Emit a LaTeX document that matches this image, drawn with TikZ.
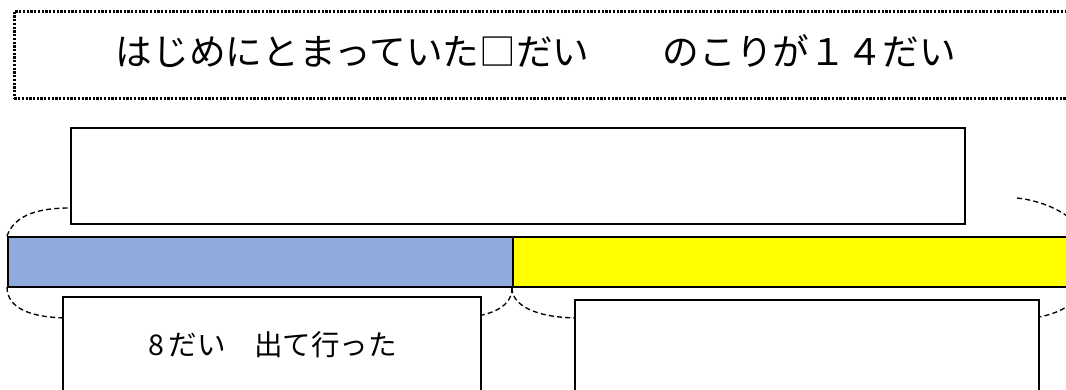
\documentclass[tikz,border=0pt]{standalone}
\usepackage{fontspec}
\setmainfont{Noto Sans CJK JP}
\definecolor{barblue}{HTML}{8FAADC}
\definecolor{baryellow}{HTML}{FFFF00}
\begin{document}
\begin{tikzpicture}[x=0.75pt,y=-0.75pt,
  whitebox/.style={draw=black, line width=1.6pt, fill=white, inner sep=0pt},
  barpart/.style={draw=black, line width=1.6pt, inner sep=0pt},
  bracecurve/.style={draw=black, line width=1pt, dash pattern=on 3.8pt off 2.4pt},
  titlebox/.style={draw=black, line width=2pt, dash pattern=on 1.7pt off 1.1pt, inner sep=0pt}]
\useasboundingbox (0,0) rectangle (1066,389);
\clip (0,0) rectangle (1066,389);

% title box (dotted)
\node[titlebox, minimum width=1067pt*0.75, minimum height=87pt*0.75, anchor=north west] (title) at (13,10) {};
\node[font=\fontsize{27.5pt}{30pt}\selectfont, inner sep=0pt] (titletext) at (536,51)
  {はじめにとまっていた□だい　　のこりが１４だい};

% braces (dashed), drawn first so the boxes hide their middles
\coordinate (bl) at (7,236);
\coordinate (tl) at (70,208);
\coordinate (tr) at (1017,198);
\coordinate (br) at (1085,236);
\coordinate (bbl) at (7,287);
\coordinate (bmid) at (512,288);
\coordinate (bbr) at (1085,287);
\draw[bracecurve] (bl) .. controls (15,214) and (40,208) .. (tl);
\draw[bracecurve] (tr) .. controls (1045,201) and (1075,215) .. (br);
\draw[bracecurve] (bbl) .. controls (7,308) and (30,318) .. (70,318) -- (460,318)
   .. controls (495,316) and (512,305) .. (bmid);
\draw[bracecurve] (bmid) .. controls (512,305) and (535,318) .. (580,318) -- (1030,318)
   .. controls (1060,316) and (1080,300) .. (bbr);

% bar
\node[barpart, fill=barblue, minimum width=505pt*0.75, minimum height=50pt*0.75, anchor=north west] (blue) at (7,236) {};
\node[barpart, fill=baryellow, minimum width=580pt*0.75, minimum height=50pt*0.75, anchor=north west] (yellow) at (512,236) {};

% boxes
\node[whitebox, minimum width=894pt*0.75, minimum height=96pt*0.75, anchor=north west] (total) at (70,127) {};
\node[whitebox, minimum width=418pt*0.75, minimum height=140pt*0.75, anchor=north west] (left) at (62,296) {};
\node[whitebox, minimum width=464pt*0.75, minimum height=140pt*0.75, anchor=north west] (right) at (574,299) {};
\node[font=\fontsize{21.4pt}{24pt}\selectfont, inner sep=0pt] (lefttext) at (273,345) {8\kern3pt だい　出て行った};
\end{tikzpicture}
\end{document}
